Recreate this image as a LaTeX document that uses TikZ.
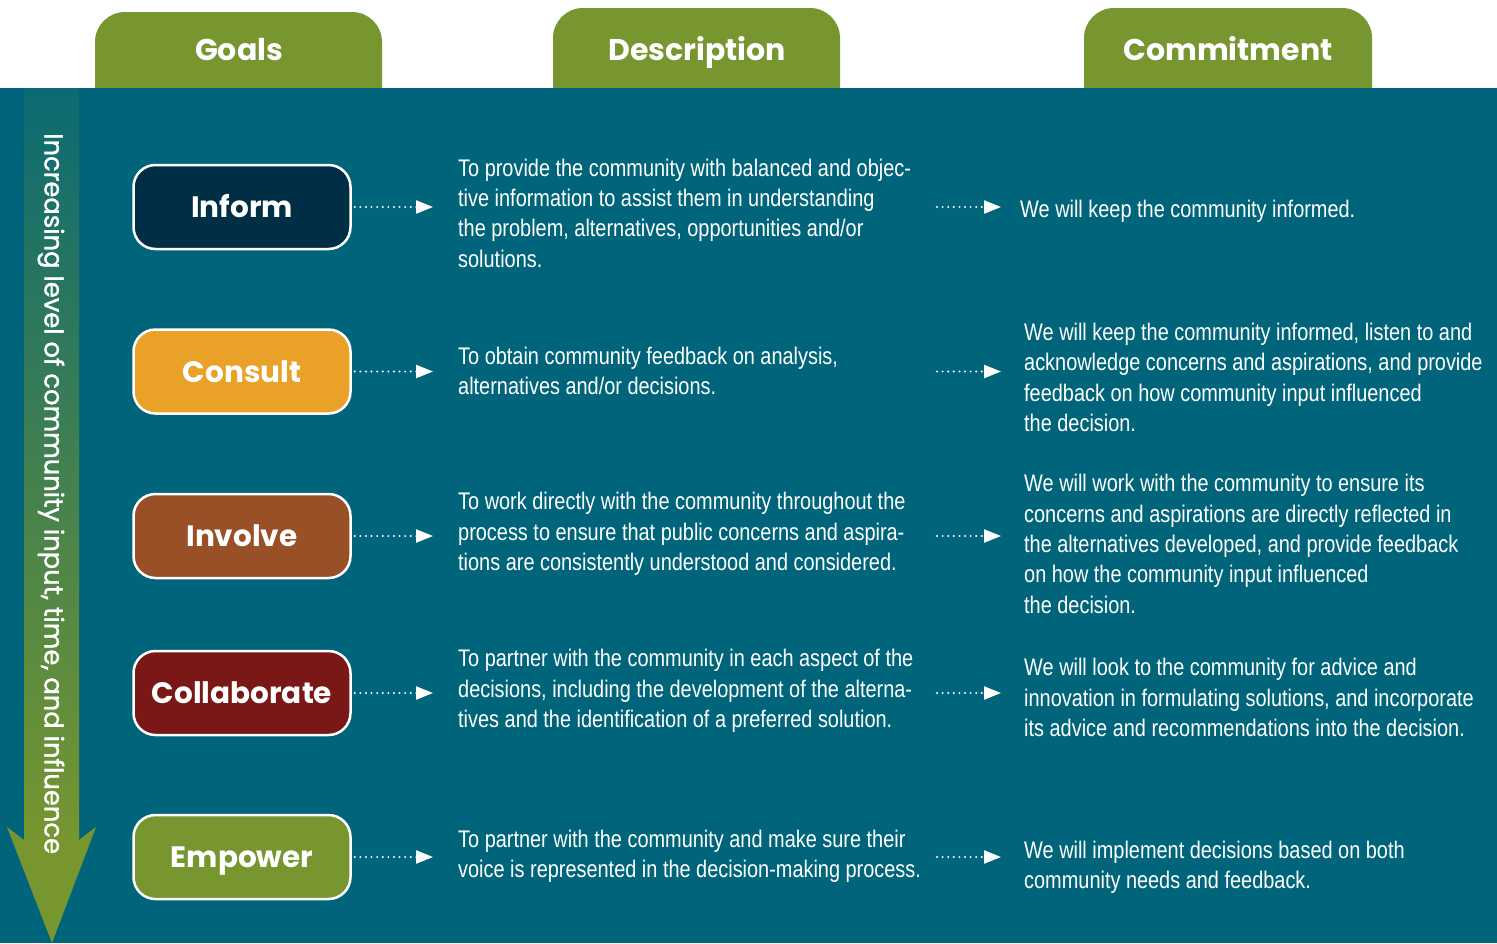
\documentclass[tikz,border=0pt]{standalone}
\usepackage{fontspec}
\setmainfont{Liberation Sans}[FakeStretch=0.83]
\newfontfamily\headfont{Poppins}
\newfontfamily\vfont{Poppins}[FakeBold=1.3]
\usetikzlibrary{arrows.meta,calc}
\definecolor{bgteal}{HTML}{00657A}
\definecolor{tabgreen}{HTML}{77962F}
\definecolor{cinform}{HTML}{002E45}
\definecolor{cconsult}{HTML}{E9A227}
\definecolor{cinvolve}{HTML}{9A5027}
\definecolor{ccollab}{HTML}{7A1818}
\definecolor{shafttop}{HTML}{0C6A72}
\begin{document}
\begin{tikzpicture}[x=1pt,y=-1pt,
  goalbox/.style={draw=white, line width=2.5pt, rounded corners=22pt,
    minimum width=217pt, minimum height=84pt, text=white,
    text height=21pt, text depth=0pt,
    font=\headfont\bfseries\fontsize{29.5}{32}\selectfont},
  tabtext/.style={text=white, anchor=base, font=\headfont\bfseries\fontsize{30}{32}\selectfont},
  bodytext/.style={text=white, align=left, anchor=west, inner sep=0pt,
    font=\fontsize{24}{30.3}\selectfont},
  darrow/.style={white, line width=2.2pt, dash pattern=on 0pt off 5.6pt, line cap=round,
    -{Triangle[length=17pt,width=13pt]}},
]
\useasboundingbox (0,0) rectangle (1497,943);
\fill[white] (0,0) rectangle (1497,943);
% tabs
\fill[tabgreen, rounded corners=30pt] (95,90) -- (95,12) -- (382,12) -- (382,90);
\fill[tabgreen, rounded corners=30pt] (553,90) -- (553,8) -- (840,8) -- (840,90);
\fill[tabgreen, rounded corners=30pt] (1084,90) -- (1084,8) -- (1372,8) -- (1372,90);
\node[tabtext] (tGoals) at (239,60) {Goals};
\node[tabtext] (tDesc) at (697,60) {Description};
\node[tabtext] (tComm) at (1228,60) {Commitment};
% background
\fill[bgteal] (0,88) rectangle (1497,943);
% vertical arrow
\shade[top color=shafttop, bottom color=tabgreen] (24,88) rectangle (79,841);
\fill[tabgreen] (24,840) -- (7,827) -- (52,943) -- (96,827) -- (79,840) -- cycle;
\node[rotate=-90, anchor=west, text=white, inner sep=0pt,
  font=\vfont\fontsize{25.8}{28}\selectfont] (vlabel) at (51,133)
  {Increasing level of community input, time, and influence};
% goal boxes
\node[goalbox, fill=cinform] (inform) at (242,207) {Inform};
\node[goalbox, fill=cconsult] (consult) at (242,371.5) {Consult};
\node[goalbox, fill=cinvolve] (involve) at (242,536) {Involve};
\node[goalbox, fill=ccollab] (collab) at (242,693) {Collaborate};
\node[goalbox, fill=tabgreen] (empower) at (242,857) {Empower};
% descriptions
\node[bodytext] (dInform) at (458,213) {To provide the community with balanced and objec-\\tive information to assist them in understanding\\the problem, alternatives, opportunities and/or\\solutions.};
\node[bodytext] (dConsult) at (458,371) {To obtain community feedback on analysis,\\alternatives and/or decisions.};
\node[bodytext] (dInvolve) at (458,534) {To work directly with the community throughout the\\process to ensure that public concerns and aspira-\\tions are consistently understood and considered.};
\node[bodytext] (dCollab) at (458,691) {To partner with the community in each aspect of the\\decisions, including the development of the alterna-\\tives and the identification of a preferred solution.};
\node[bodytext] (dEmpower) at (458,856) {To partner with the community and make sure their\\voice is represented in the decision-making process.};
% commitments
\node[bodytext] (cInform) at (1020,211) {We will keep the community informed.};
\node[bodytext] (cConsult) at (1024,377.5) {We will keep the community informed, listen to and\\acknowledge concerns and aspirations, and provide\\feedback on how community input influenced\\the decision.};
\node[bodytext] (cInvolve) at (1024,544) {We will work with the community to ensure its\\concerns and aspirations are directly reflected in\\the alternatives developed, and provide feedback\\on how the community input influenced\\the decision.};
\node[bodytext] (cCollab) at (1024,697.5) {We will look to the community for advice and\\innovation in formulating solutions, and incorporate\\its advice and recommendations into the decision.};
\node[bodytext] (cEmpower) at (1024,867) {We will implement decisions based on both\\community needs and feedback.};
% arrow start column for second arrows
\coordinate (col2) at (937,0);
% arrows goal -> description
\foreach \g/\d in {inform/dInform, consult/dConsult, involve/dInvolve, collab/dCollab, empower/dEmpower}{
  \draw[darrow, shorten <=3pt, shorten >=25pt] (\g.east) -- (\g.east -| \d.west);
}
% arrows description -> commitment
\foreach \g/\c/\s in {inform/cInform/19pt, consult/cConsult/23pt, involve/cInvolve/23pt, collab/cCollab/23pt, empower/cEmpower/23pt}{
  \draw[darrow, shorten >=\s] (\g.east -| col2) -- (\g.east -| \c.west);
}
\end{tikzpicture}
\end{document}
